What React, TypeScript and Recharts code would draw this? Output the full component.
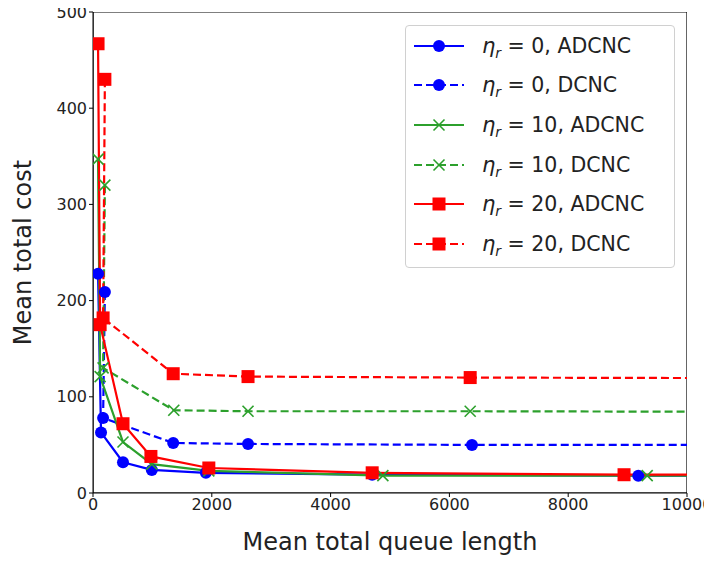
import { LineChart, Line, XAxis, YAxis, ReferenceArea } from "recharts";

// eta_r = 0
const adcnc0X = [85, 135, 505, 990, 1900, 4700, 9180, 14000];
const adcnc0Y = [228, 63, 32, 24, 21, 19, 18, 18];
const dcnc0X = [200, 170, 1350, 2610, 6380, 14000];
const dcnc0Y = [209, 78, 52, 51, 50, 50];
// eta_r = 10
const adcnc10X = [85, 120, 505, 990, 1950, 4880, 9330, 14000];
const adcnc10Y = [347, 121, 53, 30, 23, 18, 18, 18];
const dcnc10X = [200, 170, 1360, 2610, 6350, 14000];
const dcnc10Y = [320, 130, 86, 85, 85, 84];
// eta_r = 20
const adcnc20X = [85, 120, 505, 975, 1950, 4700, 8940, 14000];
const adcnc20Y = [467, 175, 72, 38, 26, 21, 19, 19];
const dcnc20X = [200, 170, 1350, 2610, 6350, 14000];
const dcnc20Y = [430, 182, 124, 121, 120, 119];

const xTicks = [0, 2000, 4000, 6000, 8000, 10000];
const yTicks = [0, 100, 200, 300, 400, 500];

const FONT = "DejaVu Sans, sans-serif";
const BLUE = "#0000ff";
const GREEN = "#2ca02c";
const RED = "#ff0000";

type Marker = "circle" | "x" | "square";

const toRows = (xs: number[], ys: number[]) => xs.map((x, i) => ({ x, y: ys[i] }));

const series = [
  { eta: "0", algo: "ADCNC", color: BLUE, marker: "circle" as Marker, dashed: false, data: toRows(adcnc0X, adcnc0Y) },
  { eta: "0", algo: "DCNC", color: BLUE, marker: "circle" as Marker, dashed: true, data: toRows(dcnc0X, dcnc0Y) },
  { eta: "10", algo: "ADCNC", color: GREEN, marker: "x" as Marker, dashed: false, data: toRows(adcnc10X, adcnc10Y) },
  { eta: "10", algo: "DCNC", color: GREEN, marker: "x" as Marker, dashed: true, data: toRows(dcnc10X, dcnc10Y) },
  { eta: "20", algo: "ADCNC", color: RED, marker: "square" as Marker, dashed: false, data: toRows(adcnc20X, adcnc20Y) },
  { eta: "20", algo: "DCNC", color: RED, marker: "square" as Marker, dashed: true, data: toRows(dcnc20X, dcnc20Y) },
];

function MarkerShape({ cx, cy, color, marker }: { cx: number; cy: number; color: string; marker: Marker }) {
  if (marker === "circle") return <circle cx={cx} cy={cy} r={6} fill={color} />;
  if (marker === "square") return <rect x={cx - 6.5} y={cy - 6.5} width={13} height={13} fill={color} />;
  const s = 5.5;
  return (
    <g stroke={color} strokeWidth={1.6}>
      <line x1={cx - s} y1={cy - s} x2={cx + s} y2={cy + s} />
      <line x1={cx - s} y1={cy + s} x2={cx + s} y2={cy - s} />
    </g>
  );
}

function makeDot(color: string, marker: Marker) {
  return (props: any) => {
    const { cx, cy, payload, key, index } = props;
    if (payload.x > 10000 || cx == null) return <g key={key ?? index} />;
    return (
      <g key={key ?? index}>
        <MarkerShape cx={cx} cy={cy} color={color} marker={marker} />
      </g>
    );
  };
}

function LegendBox() {
  return (
    <div
      style={{
        position: "absolute",
        left: 405,
        top: 25,
        width: 270,
        height: 243,
        border: "1px solid #d0d0d0",
        borderRadius: 4,
        background: "rgba(255,255,255,0.8)",
        boxSizing: "border-box",
        paddingTop: 0,
      }}
    >
      {series.map((s, i) => (
        <div key={i} style={{ display: "flex", alignItems: "center", height: 39.6 }}>
          <svg width={70} height={20} style={{ marginLeft: 6, flexShrink: 0 }}>
            <line
              x1={2}
              y1={10}
              x2={52}
              y2={10}
              stroke={s.color}
              strokeWidth={2.2}
              strokeDasharray={s.dashed ? "8 4" : undefined}
            />
            <MarkerShape cx={27} cy={10} color={s.color} marker={s.marker} />
          </svg>
          <span style={{ fontFamily: FONT, fontSize: 20.5, color: "#222", whiteSpace: "nowrap", lineHeight: "22px" }}>
            <i style={{ fontSize: 21 }}>η</i>
            <sub style={{ fontSize: 14, lineHeight: 0 }}>
              <i>r</i>
            </sub>{" "}
            = {s.eta}, {s.algo}
          </span>
        </div>
      ))}
    </div>
  );
}

export default function App() {
  return (
    <div style={{ position: "relative", width: 712, height: 563, margin: -8 }}>
      <LineChart width={712} height={563} margin={{ top: 12, right: 25, bottom: 10, left: 0 }}>
        <XAxis
          type="number"
          dataKey="x"
          domain={[0, 10000]}
          allowDataOverflow
          ticks={xTicks}
          tickSize={4}
          tick={{ fill: "#222", fontSize: 16, fontFamily: FONT }}
          stroke="#000"
          height={60}
          label={{ value: "Mean total queue length", position: "insideBottom", offset: 3, fill: "#222", fontSize: 24, fontFamily: FONT }}
        />
        <YAxis
          type="number"
          dataKey="y"
          domain={[0, 500]}
          allowDataOverflow
          ticks={yTicks}
          tickSize={4}
          tick={{ fill: "#222", fontSize: 16, fontFamily: FONT }}
          stroke="#000"
          width={93}
          label={{ value: "Mean total cost", angle: -90, position: "insideLeft", offset: 22, style: { textAnchor: "middle" }, fill: "#222", fontSize: 24, fontFamily: FONT }}
        />
        <ReferenceArea x1={0} x2={10000} y1={0} y2={500} fill="none" stroke="#000" strokeWidth={1.2} ifOverflow="hidden" />
        {series.map((s, i) => (
          <Line
            key={i}
            data={s.data}
            dataKey="y"
            type="linear"
            stroke={s.color}
            strokeWidth={2.2}
            strokeDasharray={s.dashed ? "8 4" : undefined}
            dot={makeDot(s.color, s.marker)}
            activeDot={false}
            isAnimationActive={false}
          />
        ))}
      </LineChart>
      <LegendBox />
    </div>
  );
}
